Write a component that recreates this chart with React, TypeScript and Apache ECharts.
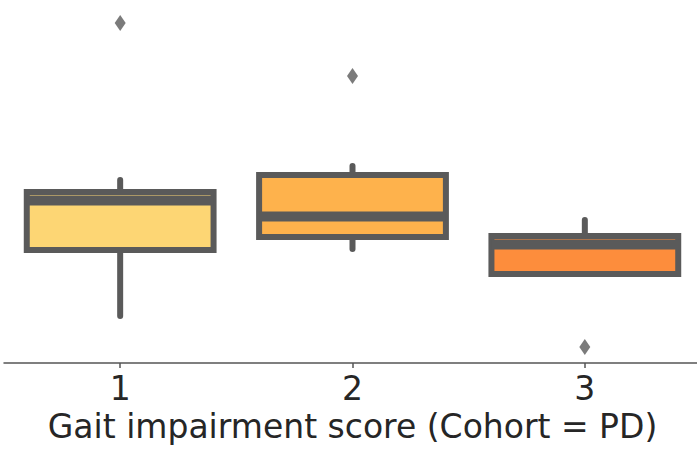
import React, { useEffect, useRef } from "react";
import * as echarts from "echarts";

const categories = ["1", "2", "3"];
// [min, Q1, median, Q3, max]
const boxValues = [
  [4.7, 11.3, 16.25, 17.1, 18.3],
  [11.4, 12.6, 14.65, 18.8, 19.7],
  [8.9, 8.9, 11.85, 12.7, 14.3],
];
const outliers = [
  [0, 34.0],
  [1, 28.7],
  [2, 1.6],
];
const fillColors = ["#FDD674", "#FEB24C", "#FD8D3C"];
const axisName = "Gait impairment score (Cohort = PD)";

export default function App() {
  const ref = useRef<HTMLDivElement>(null);
  useEffect(() => {
    if (!ref.current) return;
    const chart = echarts.init(ref.current, undefined, { renderer: "svg" });
    const edge = "#5a5a5a";
    chart.setOption({
      animation: false,
      grid: { left: 4, width: 697, top: 3, bottom: 89, outerBoundsMode: "none", containLabel: false },
      xAxis: {
        type: "category",
        data: categories,
        boundaryGap: true,
        axisLine: { show: true, lineStyle: { color: "#555555", width: 1.5 } },
        axisTick: { show: true, alignWithLabel: true, length: 5, lineStyle: { color: "#555555", width: 1.5 } },
        axisLabel: {
          fontFamily: "DejaVu Sans",
          fontSize: 33,
          lineHeight: 33,
          color: "#262626",
          margin: 9,
        },
        name: axisName,
        nameLocation: "middle",
        nameGap: 46,
        nameTextStyle: {
          fontFamily: "DejaVu Sans",
          fontSize: 33,
          lineHeight: 33,
          color: "#262626",
        },
        splitLine: { show: false },
      },
      yAxis: {
        type: "value",
        min: 0,
        max: 36,
        show: false,
        splitLine: { show: false },
      },
      series: [
        {
          type: "custom",
          data: boxValues.map((v, i) => [i, ...v]),
          renderItem: (params: any, api: any) => {
            const idx = api.value(0);
            const mn = api.coord([idx, api.value(1)]);
            const q1 = api.coord([idx, api.value(2)]);
            const md = api.coord([idx, api.value(3)]);
            const q3 = api.coord([idx, api.value(4)]);
            const mx = api.coord([idx, api.value(5)]);
            const band = api.size([1, 0])[0];
            const half = band * 0.402;
            const x = q1[0];
            const children: any[] = [];
            if (mx[1] < q3[1]) {
              children.push({
                type: "line",
                shape: { x1: x, y1: q3[1], x2: x, y2: mx[1] },
                style: { stroke: edge, lineWidth: 6, lineCap: "round" },
              });
            }
            if (mn[1] > q1[1]) {
              children.push({
                type: "line",
                shape: { x1: x, y1: q1[1], x2: x, y2: mn[1] },
                style: { stroke: edge, lineWidth: 6, lineCap: "round" },
              });
            }
            children.push({
              type: "rect",
              shape: { x: x - half, y: q3[1], width: half * 2, height: q1[1] - q3[1] },
              style: { fill: fillColors[params.dataIndex], stroke: edge, lineWidth: 6 },
            });
            children.push({
              type: "line",
              shape: { x1: x - half, y1: md[1], x2: x + half, y2: md[1] },
              style: { stroke: edge, lineWidth: 10, lineCap: "butt" },
            });
            return { type: "group", children };
          },
          encode: { x: 0, y: [1, 2, 3, 4, 5] },
          z: 2,
        },
        {
          type: "scatter",
          data: outliers,
          symbol: "diamond",
          symbolSize: [11, 16],
          itemStyle: { color: edge },
          z: 3,
        },
      ],
    });
    return () => chart.dispose();
  }, []);
  return (
    <div
      ref={ref}
      style={{ position: "absolute", left: 0, top: 0, width: 697, height: 452 }}
    />
  );
}
